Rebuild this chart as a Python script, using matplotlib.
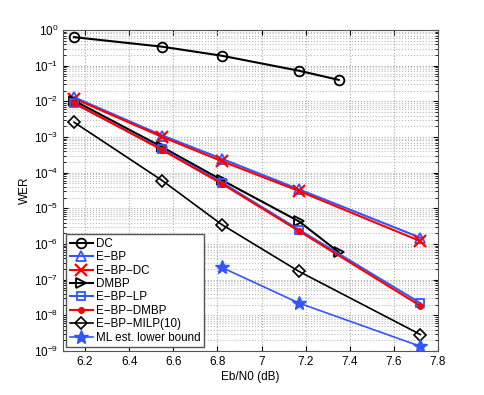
import numpy as np
from matplotlib import pyplot as plt

plt.rcParams["font.family"] = ["Liberation Sans", "DejaVu Sans"]

snr_dc = [6.15, 6.55, 6.82, 7.17, 7.35]
wer_dc = [0.63, 0.34, 0.19, 0.072, 0.04]

snr_full = [6.15, 6.55, 6.82, 7.17, 7.72]
wer_ebp = [0.013, 1.1e-3, 2.45e-4, 3.4e-5, 1.5e-6]
wer_ebp_dc = [0.012, 1.0e-3, 2.1e-4, 3.05e-5, 1.2e-6]

snr_dmbp = [6.15, 6.55, 6.82, 7.17, 7.35]
wer_dmbp = [0.0105, 5.2e-4, 6.2e-5, 4.3e-6, 5.9e-7]

wer_ebp_lp = [8.7e-3, 4.6e-4, 5.3e-5, 2.5e-6, 2.2e-8]
wer_ebp_dmbp = [9.0e-3, 4.3e-4, 4.9e-5, 2.3e-6, 1.85e-8]
wer_milp = [2.6e-3, 6.0e-5, 3.5e-6, 1.7e-7, 2.9e-9]

snr_ml = [6.82, 7.17, 7.72]
wer_ml = [2.2e-7, 2.2e-8, 1.35e-9]

BLUE = "#3355ff"

fig = plt.figure(figsize=(4.85, 3.95), dpi=100)
ax = fig.add_axes([63 / 485, 1 - 351 / 395, (438 - 63) / 485, (351 - 30) / 395])

lw = 1.5
ax.semilogy(snr_dc, wer_dc, "-o", color="k", lw=lw, ms=7, mfc="none", mew=1.3, label="DC")
ax.semilogy(snr_full, wer_ebp, "-^", color=BLUE, lw=lw, ms=7, mfc="none", mew=1.3, label="E\u2212BP")
ax.semilogy(snr_full, wer_ebp_dc, "-x", color="red", lw=lw, ms=8, mew=1.6, label="E\u2212BP\u2212DC")
ax.semilogy(snr_dmbp, wer_dmbp, "->", color="k", lw=lw, ms=7, mfc="none", mew=1.3, label="DMBP")
ax.semilogy(snr_full, wer_ebp_lp, "-s", color=BLUE, lw=lw, ms=6, mfc="none", mew=1.3, label="E\u2212BP\u2212LP")
ax.semilogy(snr_full, wer_ebp_dmbp, "-o", color="red", lw=lw, ms=4, mfc="red", mew=1, label="E\u2212BP\u2212DMBP")
ax.semilogy(snr_full, wer_milp, "-D", color="k", lw=1.2, ms=6, mfc="none", mew=1.2, label="E\u2212BP\u2212MILP(10)")
ax.semilogy(snr_ml, wer_ml, "-*", color=BLUE, lw=1.2, ms=10, label="ML est. lower bound")

ax.set_xlim(6.1, 7.8)
ax.set_ylim(1e-9, 1)
ax.set_xticks(np.arange(6.2, 7.81, 0.2))
ax.set_xticklabels(["6.2", "6.4", "6.6", "6.8", "7", "7.2", "7.4", "7.6", "7.8"])
ax.set_yticks([10.0 ** k for k in range(-9, 1)])
ax.grid(True, which="major", ls=":", color="#aaaaaa", lw=0.8)
ax.grid(True, which="minor", axis="y", ls=":", color="#bbbbbb", lw=0.8)
ax.tick_params(which="both", direction="in", top=True, right=True, labelsize=8.5)
for s in ax.spines.values():
    s.set_color("#555555")

ax.set_xlabel("Eb/N0 (dB)", fontsize=8.5, labelpad=2)
ax.set_ylabel("WER", fontsize=8.5, labelpad=2)

leg = ax.legend(loc="lower left", fontsize=8.4, bbox_to_anchor=(0.008, 0.012), borderaxespad=0,
                handlelength=2.0, handletextpad=0.3, labelspacing=0.12, borderpad=0.3,
                fancybox=False, framealpha=1)
leg.get_frame().set_edgecolor("#555555")
leg.get_frame().set_linewidth(1)

fig.savefig("out.png", dpi=100)
